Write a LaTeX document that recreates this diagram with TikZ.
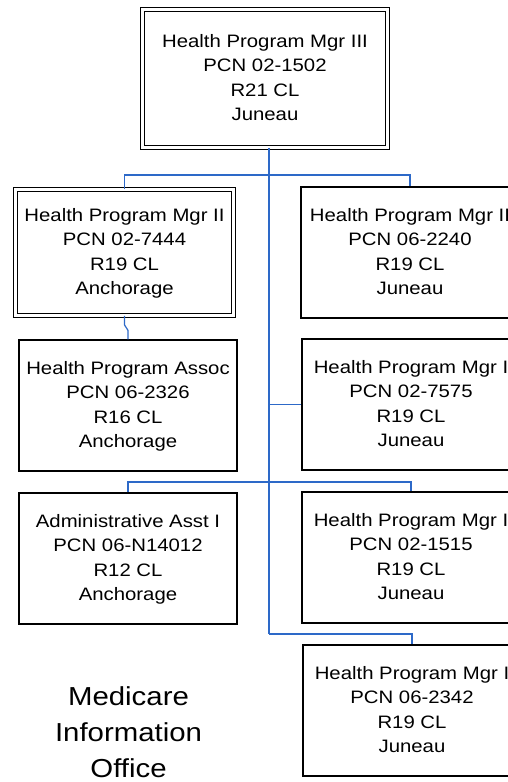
\documentclass[tikz,border=0pt]{standalone}
\usepackage{fontspec}
\setmainfont{Liberation Sans}[FakeStretch=1.13]
\usetikzlibrary{calc}
\definecolor{connblue}{RGB}{45,105,200}
\newcommand\boxstrut{\rule[-6.6pt]{0pt}{24.3pt}}
\newcommand\bigstrut{\rule[-10pt]{0pt}{36pt}}
\tikzset{
  posbox/.style={draw=black, line width=1.3pt, fill=white, rectangle, inner sep=0pt,
    align=center, font=\fontsize{18}{24.3}\selectfont},
  dblbox/.style={posbox, line width=1.2pt, double=white, double distance=3pt},
  conn/.style={draw=connblue, line width=1.2pt},
  title/.style={align=center, inner sep=0pt, font=\fontsize{26}{36}\selectfont}
}
\begin{document}
\begin{tikzpicture}[x=1pt,y=-1pt]
\useasboundingbox (0,0) rectangle (508,782);
\clip (0,0) rectangle (508,782);
\fill[white] (0,0) rectangle (508,782);

% coordinates for the connector lines
\coordinate (tx) at (269,0);
\coordinate (h1) at (269,175);
\coordinate (h2) at (269,482);
\coordinate (h3) at (269,634);

% boxes
\node[dblbox, minimum width=244.6pt, minimum height=137.6pt] (t) at (265,78.5)
  {\boxstrut Health Program Mgr III\\\boxstrut PCN 02-1502\\\boxstrut R21 CL\\\boxstrut Juneau};
\node[dblbox, minimum width=217.6pt, minimum height=125.6pt] (b1) at (124.5,252.5)
  {\boxstrut Health Program Mgr II\\\boxstrut PCN 02-7444\\\boxstrut R19 CL\\\boxstrut Anchorage};
\node[posbox, minimum width=218pt, minimum height=131pt] (b2) at (410,252.5)
  {\boxstrut Health Program Mgr II\\\boxstrut PCN 06-2240\\\boxstrut R19 CL\\\boxstrut Juneau};
\node[posbox, minimum width=218pt, minimum height=131pt] (b3) at (128,405.5)
  {\boxstrut Health Program Assoc\\\boxstrut PCN 06-2326\\\boxstrut R16 CL\\\boxstrut Anchorage};
\node[posbox, minimum width=218pt, minimum height=131pt] (b4) at (411,404.5)
  {\boxstrut Health Program Mgr I\\\boxstrut PCN 02-7575\\\boxstrut R19 CL\\\boxstrut Juneau};
\node[posbox, minimum width=218pt, minimum height=131pt] (b5) at (128,558.5)
  {\boxstrut Administrative Asst I\\\boxstrut PCN 06-N14012\\\boxstrut R12 CL\\\boxstrut Anchorage};
\node[posbox, minimum width=218pt, minimum height=131pt] (b6) at (411,557.5)
  {\boxstrut Health Program Mgr I\\\boxstrut PCN 02-1515\\\boxstrut R19 CL\\\boxstrut Juneau};
\node[posbox, minimum width=218pt, minimum height=131pt] (b7) at (412,710.5)
  {\boxstrut Health Program Mgr I\\\boxstrut PCN 06-2342\\\boxstrut R19 CL\\\boxstrut Juneau};

\node[title] (m) at (128.5,733.7)
  {\bigstrut Medicare\\\bigstrut Information\\\bigstrut Office};

% connectors drawn node to node
\draw[conn] (t.south -| tx) -- (h3);
\draw[conn] (b1.north) |- (h1) -| (b2.north);
\draw[conn] (tx |- b4.west) -- (b4.west);
\draw[conn] (b5.north) |- (h2) -| (b6.north);
\draw[conn] (h3) -| (b7.north);
\draw[conn] (b1.south) -- ++(0,9) -- ($(b3.north)+(0,-9)$) -- (b3.north);
\end{tikzpicture}
\end{document}
